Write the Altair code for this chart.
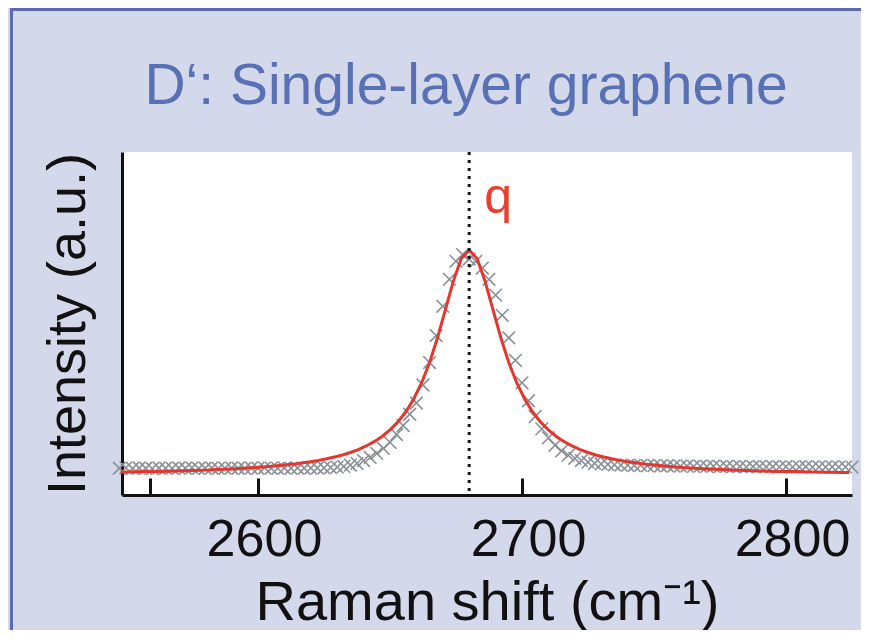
import altair as alt
import pandas as pd

# ---- data (Raman shift in cm^-1, intensity in a.u.) ----
shift_data = [
    2547.5, 2550, 2552.5, 2555, 2557.5, 2560, 2562.5, 2565, 2567.5, 2570,
    2572.5, 2575, 2577.5, 2580, 2582.5, 2585, 2587.5, 2590, 2592.5, 2595,
    2597.5, 2600, 2602.5, 2605, 2607.5, 2610, 2612.5, 2615, 2617.5, 2620,
    2622.5, 2625, 2627.5, 2630, 2632.5, 2635, 2637.5, 2640, 2642.5, 2645,
    2647.5, 2650, 2652.5, 2655, 2657.5, 2660, 2662.5, 2665, 2667.5, 2670,
    2672.5, 2675, 2677.5, 2680, 2682.5, 2685, 2687.5, 2690, 2692.5, 2695,
    2697.5, 2700, 2702.5, 2705, 2707.5, 2710, 2712.5, 2715, 2717.5, 2720,
    2722.5, 2725, 2727.5, 2730, 2732.5, 2735, 2737.5, 2740, 2742.5, 2745,
    2747.5, 2750, 2752.5, 2755, 2757.5, 2760, 2762.5, 2765, 2767.5, 2770,
    2772.5, 2775, 2777.5, 2780, 2782.5, 2785, 2787.5, 2790, 2792.5, 2795,
    2797.5, 2800, 2802.5, 2805, 2807.5, 2810, 2812.5, 2815, 2817.5, 2820,
    2822.5, 2825,
]
intensity_data = [
    0.030, 0.032, 0.029, 0.031, 0.030, 0.028, 0.031, 0.030, 0.029, 0.031,
    0.030, 0.032, 0.029, 0.030, 0.031, 0.029, 0.030, 0.031, 0.030, 0.029,
    0.031, 0.030, 0.032, 0.030, 0.029, 0.031, 0.030, 0.031, 0.030, 0.031,
    0.031, 0.032, 0.033, 0.035, 0.038, 0.044, 0.052, 0.064, 0.078, 0.096,
    0.118, 0.145, 0.180, 0.220, 0.270, 0.320, 0.400, 0.500, 0.620, 0.750,
    0.870, 0.950, 0.980, 0.960, 0.950, 0.920, 0.870, 0.800, 0.710, 0.610,
    0.510, 0.410, 0.330, 0.260, 0.205, 0.165, 0.132, 0.107, 0.088, 0.074,
    0.064, 0.057, 0.052, 0.049, 0.047, 0.045, 0.044, 0.043, 0.042, 0.043,
    0.041, 0.042, 0.040, 0.041, 0.040, 0.039, 0.040, 0.038, 0.039, 0.038,
    0.039, 0.037, 0.038, 0.037, 0.038, 0.036, 0.037, 0.038, 0.036, 0.037,
    0.036, 0.037, 0.035, 0.036, 0.037, 0.035, 0.036, 0.035, 0.036, 0.035,
    0.036, 0.035,
]

shift_fit = [
    2548, 2551, 2554, 2557, 2560, 2563, 2566, 2569, 2572, 2575,
    2578, 2581, 2584, 2587, 2590, 2593, 2596, 2599, 2602, 2605,
    2608, 2611, 2614, 2617, 2620, 2623, 2626, 2629, 2632, 2635,
    2638, 2641, 2644, 2647, 2650, 2653, 2656, 2659, 2662, 2665,
    2668, 2671, 2674, 2677, 2680, 2683, 2686, 2689, 2692, 2695,
    2698, 2701, 2704, 2707, 2710, 2713, 2716, 2719, 2722, 2725,
    2728, 2731, 2734, 2737, 2740, 2743, 2746, 2749, 2752, 2755,
    2758, 2761, 2764, 2767, 2770, 2773, 2776, 2779, 2782, 2785,
    2788, 2791, 2794, 2797, 2800, 2803, 2806, 2809, 2812, 2815,
    2818, 2821, 2824,
]
intensity_fit = [
    0.013, 0.013, 0.014, 0.015, 0.015, 0.016, 0.017, 0.018, 0.019, 0.020,
    0.021, 0.022, 0.024, 0.025, 0.027, 0.029, 0.031, 0.033, 0.036, 0.039,
    0.042, 0.045, 0.049, 0.054, 0.059, 0.065, 0.072, 0.080, 0.089, 0.100,
    0.113, 0.129, 0.148, 0.171, 0.200, 0.236, 0.281, 0.338, 0.410, 0.500,
    0.610, 0.735, 0.862, 0.962, 1.000, 0.962, 0.862, 0.735, 0.610, 0.500,
    0.410, 0.338, 0.281, 0.236, 0.200, 0.171, 0.148, 0.129, 0.113, 0.100,
    0.089, 0.080, 0.072, 0.065, 0.059, 0.054, 0.049, 0.045, 0.042, 0.039,
    0.036, 0.033, 0.031, 0.029, 0.027, 0.025, 0.024, 0.022, 0.021, 0.020,
    0.019, 0.018, 0.017, 0.016, 0.015, 0.015, 0.014, 0.013, 0.013, 0.012,
    0.012, 0.011, 0.011,
]

peak_shift = [2680]
label_text = ["q"]
label_shift = [2691]
label_intensity = [1.165]
tick_values = [2559, 2600, 2700, 2800]

x_domain = [2548.5, 2825]
y_domain = [-0.089, 1.436]

# ---- build tables ----
df_data = pd.DataFrame({"shift": shift_data, "intensity": intensity_data})
df_fit = pd.DataFrame({"shift": shift_fit, "intensity": intensity_fit})
df_peak = pd.DataFrame({"shift": peak_shift})
df_label = pd.DataFrame({"shift": label_shift, "intensity": label_intensity, "label": label_text})

FONT = "Liberation Sans"
BLACK = "#111111"
W, H = 730, 343

x_scale = alt.Scale(domain=x_domain, nice=False, zero=False)
y_scale = alt.Scale(domain=y_domain, nice=False, zero=False)

y_axis = alt.Axis(
    title="Intensity (a.u.)", domain=True, domainColor=BLACK, domainWidth=3,
    ticks=False, labels=False, grid=False,
    titleFont=FONT, titleFontSize=54, titleFontWeight="normal", titleColor=BLACK,
    titlePadding=27,
)
x_axis_ticks = alt.Axis(
    orient="bottom", offset=-17, domain=False, values=tick_values,
    tickSize=17, tickWidth=3, tickColor=BLACK, grid=False, format="d",
    labelExpr="datum.value < 2580 ? '' : datum.label",
    labelFont=FONT, labelFontSize=52, labelColor=BLACK, labelPadding=19,
    labelOffset=6,
    title="Raman shift (cm⁻¹)", titleFont=FONT, titleFontSize=56,
    titleFontWeight="normal", titleColor=BLACK, titlePadding=10,
)
x_axis_line = alt.Axis(
    orient="bottom", domain=True, domainColor=BLACK, domainWidth=3,
    ticks=False, labels=False, grid=False, title=None,
)

points = alt.Chart(df_data).mark_point(
    shape="M-1,-1L1,1M-1,1L1,-1", filled=False, color="#8a9097",
    strokeWidth=1.6, size=160, opacity=1,
).encode(
    x=alt.X("shift:Q", scale=x_scale, axis=x_axis_ticks),
    y=alt.Y("intensity:Q", scale=y_scale, axis=y_axis),
)

fit = alt.Chart(df_fit).mark_line(color="#e2372e", strokeWidth=3).encode(
    x=alt.X("shift:Q", scale=x_scale, axis=x_axis_line),
    y=alt.Y("intensity:Q", scale=y_scale, axis=y_axis),
)

peak = alt.Chart(df_peak).mark_rule(
    color=BLACK, strokeWidth=3, strokeDash=[3, 5]
).encode(x=alt.X("shift:Q", scale=x_scale, axis=None))

label = alt.Chart(df_label).mark_text(
    color="#e8402f", font=FONT, fontSize=50, align="center", baseline="alphabetic"
).encode(
    x=alt.X("shift:Q", scale=x_scale, axis=None),
    y=alt.Y("intensity:Q", scale=y_scale, axis=y_axis),
    text="label:N",
)

# frame decoration (left and top edge of the panel)
frame_left = alt.Chart(df_peak).mark_rule(color="#5b6bb0", strokeWidth=3).encode(
    x=alt.value(-110.5), y=alt.value(-142.5), y2=alt.value(H + 140)
)
frame_top = alt.Chart(df_peak).mark_rule(color="#5b6bb0", strokeWidth=3).encode(
    x=alt.value(-112), x2=alt.value(W + 20), y=alt.value(-142.5)
)

chart = (
    alt.layer(frame_left, frame_top, points, fit, peak, label)
    .resolve_scale(x="shared", y="shared")
    .resolve_axis(x="independent")
    .properties(
        width=W, height=H,
        autosize=alt.AutoSizeParams(type="none"),
        padding={"left": 114, "top": 144, "right": 9, "bottom": 135},
        background="#d3d8ea",
        title=alt.TitleParams(
            text="D‘: Single-layer graphene", font=FONT, fontSize=57,
            fontWeight="normal", color="#5870b4", anchor="middle",
            frame="group", dx=-21, offset=-108,
        ),
    )
    .configure_view(fill="white", strokeWidth=0)
)

chart.save("out.html", embed_options={"renderer": "svg", "actions": False})
